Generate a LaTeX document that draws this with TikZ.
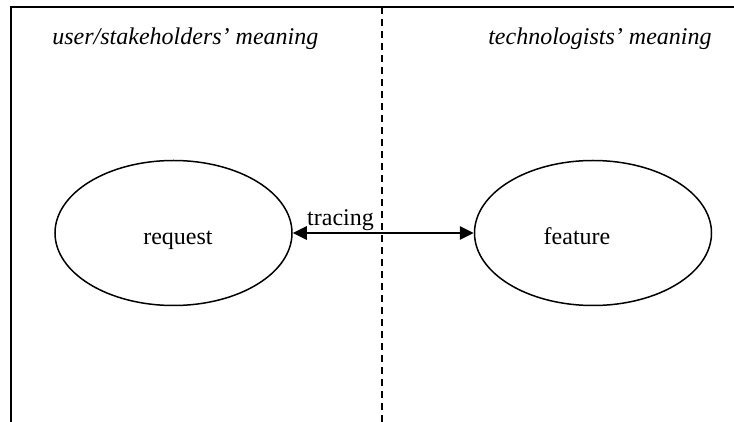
\documentclass[tikz,border=0pt]{standalone}
\usepackage{fontspec}
\setmainfont{Liberation Serif}
\usetikzlibrary{arrows.meta,shapes.geometric}

\begin{document}
\begin{tikzpicture}[x=0.5pt, y=-0.5pt,
		every node/.style={inner sep=0pt, font=\fontsize{12}{14}\selectfont},
		meaning/.style={ellipse, draw, line width=0.75pt, minimum width=118.5pt, minimum height=72.5pt},
		heading/.style={font=\fontsize{12}{14}\selectfont\itshape}]
		\useasboundingbox (0,0) rectangle (734,422);

		\coordinate (B0) at (11, 422);
		\coordinate (C0) at (11, 7);
		\coordinate (R0) at (734, 7);
		\coordinate (D0) at (382, 7);
		\coordinate (D1) at (382, 422);

		\draw[line width=1pt] (B0) -- (C0) -- (R0);
		\draw[line width=1pt, dash pattern=on 3.5pt off 2.5pt] (D0) -- (D1);

		\node[heading, anchor=base west] (userhead) at (52, 45) {user/stakeholders' meaning};
		\node[heading, anchor=base east] (techhead) at (712, 45) {technologists' meaning};

		\node[meaning] (request) at (173.5, 233) {};
		\node[meaning] (feature) at (593, 233) {};
		\node[anchor=base] (reqtext) at (178, 245) {request};
		\node[anchor=base] (feattext) at (577, 245) {feature};

		\draw[{Triangle[length=7pt, width=6.5pt]}-{Triangle[length=7pt, width=6.5pt]}, line width=1.3pt] (request) -- node[pos=0.264, anchor=base, yshift=3.5pt] (tracing) {tracing} (feature);
	\end{tikzpicture}
\end{document}
